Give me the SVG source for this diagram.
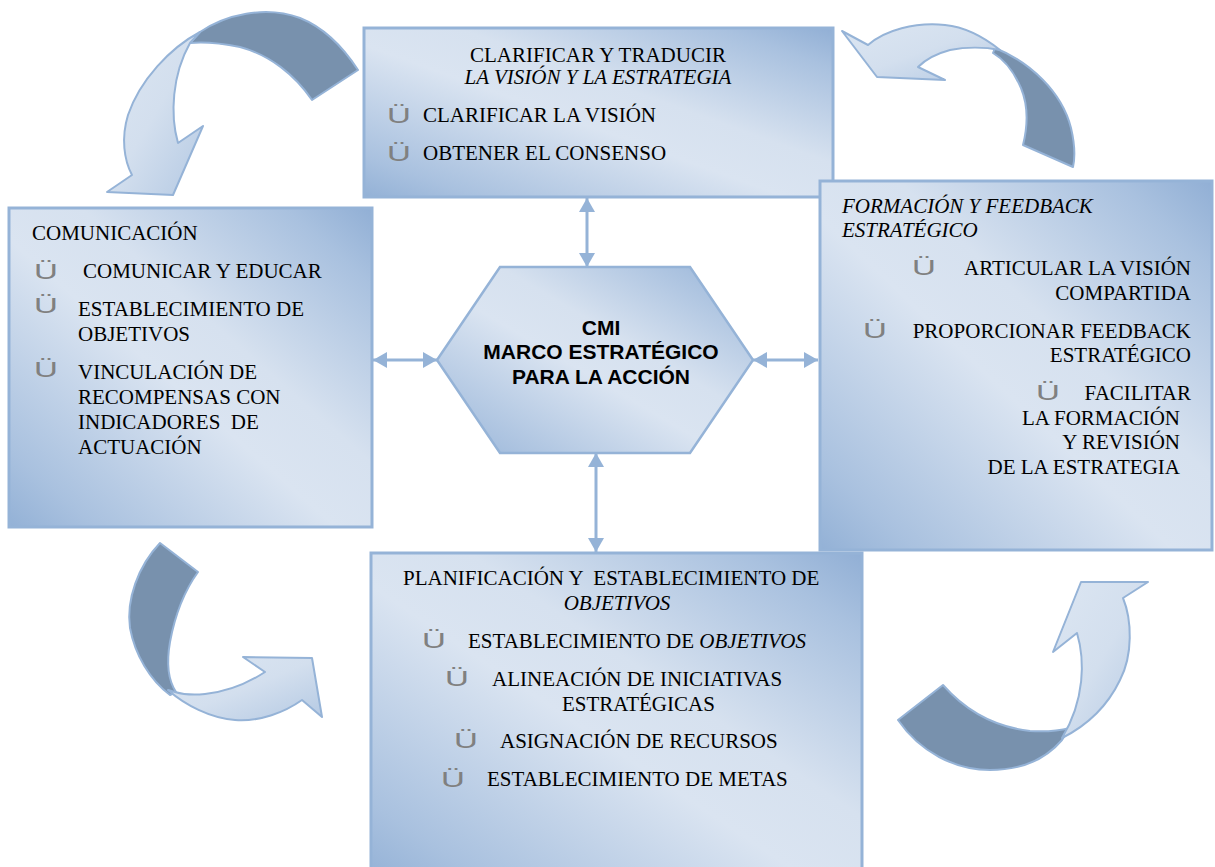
<svg xmlns="http://www.w3.org/2000/svg" width="1215" height="867" viewBox="0 0 1215 867">
<defs>
<linearGradient id="boxGrad" x1="0" y1="1" x2="1" y2="0">
<stop offset="0" stop-color="#93b1d6"/>
<stop offset="0.12" stop-color="#a9c1df"/>
<stop offset="0.45" stop-color="#dae4f1"/>
<stop offset="0.6" stop-color="#d6e1ef"/>
<stop offset="0.88" stop-color="#a9c1df"/>
<stop offset="1" stop-color="#91afd5"/>
</linearGradient>
<linearGradient id="arrowGrad" x1="0" y1="0" x2="1" y2="1">
<stop offset="0" stop-color="#dce6f2"/>
<stop offset="0.5" stop-color="#d3dfee"/>
<stop offset="1" stop-color="#b4c9e3"/>
</linearGradient>
<marker id="ah" viewBox="0 0 14 16" refX="14" refY="8" markerWidth="14" markerHeight="16" markerUnits="userSpaceOnUse" orient="auto-start-reverse">
<path d="M0,0 L14,8 L0,16 Z" fill="#95b3d7"/>
</marker>
<style>
.box{fill:url(#boxGrad);stroke:#95b3d7;stroke-width:3}
.hex{fill:url(#boxGrad);stroke:#95b3d7;stroke-width:2.5}
.dark{fill:#7891ad;stroke:#95b3d7;stroke-width:2;stroke-linejoin:round}
.light{fill:url(#arrowGrad);stroke:#95b3d7;stroke-width:2;stroke-linejoin:round}
.conn{stroke:#95b3d7;stroke-width:3;fill:none;marker-start:url(#ah);marker-end:url(#ah)}
.t{font-family:"Liberation Sans" ,serif;font-size:21px;fill:#000;white-space:pre}
.t{font-family:"Liberation Serif","Times New Roman",serif}
.i{font-style:italic}
.b{font-family:"Liberation Sans",Arial,sans-serif;font-size:22px;fill:#808080}
.h{font-family:"Liberation Sans",Arial,sans-serif;font-size:21px;font-weight:bold;fill:#000;text-anchor:middle}
.m{text-anchor:middle}
.e{text-anchor:end}
</style>
</defs>
<rect width="1215" height="867" fill="#ffffff"/>

<g id="curved-arrows">
<g id="arrow-top-left">
<path class="dark" d="M200,32 C225,15 265,5 300,18 C325,28 345,50 358,70 L312,100 C295,75 270,55 240,47 C220,43 200,42 190,43 Z"/>
<path class="light" d="M200,32 C170,48 140,80 128,115 C121,138 124,160 132,175 L107,192 L173,195 L203,126 L178,143 C170,115 172,75 190,43 Z"/>
</g>
<g id="arrow-top-right">
<path class="dark" d="M995,48 C1030,62 1062,92 1071,128 C1075,145 1075,158 1073,167 L1023,145 C1028,125 1028,105 1021,88 C1014,72 1005,60 993,53 Z"/>
<path class="light" d="M868,45 C885,30 915,22 945,25 C965,27 985,38 1000,50 C985,47 965,47 950,50 C935,54 925,60 918,67 L945,80 L877,77 L842,31 Z"/>
</g>
<g id="arrow-bottom-left">
<path class="dark" d="M160,543 L198,572 C185,590 175,615 170,642 C166,665 168,680 176,692 L170,695 C150,680 135,655 130,628 C126,600 138,566 160,543 Z"/>
<path class="light" d="M168,690 C185,705 210,718 235,720 C260,722 285,712 302,700 L322,717 L312,658 L243,657 L265,672 C245,685 225,692 205,694 C195,695 185,695 175,692 Z"/>
</g>
<g id="arrow-bottom-right">
<path class="dark" d="M943,685 C965,710 995,727 1030,731 C1045,732 1058,731 1070,728 L1062,740 C1045,760 1020,770 990,770 C955,770 920,752 898,720 Z"/>
<path class="light" d="M1062,738 C1085,700 1085,660 1077,633 L1053,652 L1081,582 L1148,582 L1123,598 C1132,620 1133,655 1120,680 C1108,705 1088,725 1062,738 Z"/>
</g>
</g>

<g id="connectors">
<line class="conn" x1="587" y1="198" x2="587" y2="267"/>
<line class="conn" x1="596" y1="453" x2="596" y2="552"/>
<line class="conn" x1="373" y1="360" x2="437" y2="360"/>
<line class="conn" x1="753" y1="360" x2="818" y2="360"/>
</g>

<g id="node-clarificar">
<rect class="box" x="364" y="28" width="469" height="169"/>
<text class="t m" x="598" y="62">CLARIFICAR Y TRADUCIR</text>
<text class="t i m" x="598" y="84">LA VISIÓN Y LA ESTRATEGIA</text>
<text class="b" transform="translate(387,123) scale(1.5,1)">Ü</text>
<text class="t" x="423" y="122">CLARIFICAR LA VISIÓN</text>
<text class="b" transform="translate(387,161) scale(1.5,1)">Ü</text>
<text class="t" x="423" y="160">OBTENER EL CONSENSO</text>
</g>

<g id="node-comunicacion">
<rect class="box" x="9" y="208" width="363" height="319"/>
<text class="t" x="32" y="240">COMUNICACIÓN</text>
<text class="b" transform="translate(34,279) scale(1.5,1)">Ü</text>
<text class="t" x="83" y="278">COMUNICAR Y EDUCAR</text>
<text class="b" transform="translate(34,313) scale(1.5,1)">Ü</text>
<text class="t" x="78" y="316">ESTABLECIMIENTO DE</text>
<text class="t" x="78" y="341">OBJETIVOS</text>
<text class="b" transform="translate(34,377) scale(1.5,1)">Ü</text>
<text class="t" x="78" y="379">VINCULACIÓN DE</text>
<text class="t" x="78" y="404">RECOMPENSAS CON</text>
<text class="t" x="78" y="429">INDICADORES  DE</text>
<text class="t" x="78" y="454">ACTUACIÓN</text>
</g>

<g id="node-formacion">
<rect class="box" x="820" y="181" width="392" height="369"/>
<text class="t i" x="842" y="213">FORMACIÓN Y FEEDBACK</text>
<text class="t i" x="842" y="237">ESTRATÉGICO</text>
<text class="b" transform="translate(912,275) scale(1.5,1)">Ü</text>
<text class="t e" x="1191" y="275">ARTICULAR LA VISIÓN</text>
<text class="t e" x="1191" y="300">COMPARTIDA</text>
<text class="b" transform="translate(863,338) scale(1.5,1)">Ü</text>
<text class="t e" x="1191" y="338">PROPORCIONAR FEEDBACK</text>
<text class="t e" x="1191" y="362">ESTRATÉGICO</text>
<text class="b" transform="translate(1036,400) scale(1.5,1)">Ü</text>
<text class="t e" x="1191" y="400">FACILITAR</text>
<text class="t e" x="1180" y="425">LA FORMACIÓN</text>
<text class="t e" x="1180" y="449">Y REVISIÓN</text>
<text class="t e" x="1180" y="474">DE LA ESTRATEGIA</text>
</g>

<g id="node-planificacion">
<rect class="box" x="371" y="553" width="491" height="330"/>
<text class="t" x="403" y="585">PLANIFICACIÓN Y  ESTABLECIMIENTO DE</text>
<text class="t i m" x="617" y="610">OBJETIVOS</text>
<text class="b" transform="translate(422,648) scale(1.5,1)">Ü</text>
<text class="t" x="468" y="648">ESTABLECIMIENTO DE <tspan class="i">OBJETIVOS</tspan></text>
<text class="b" transform="translate(445,686) scale(1.5,1)">Ü</text>
<text class="t" x="492" y="686">ALINEACIÓN DE INICIATIVAS</text>
<text class="t" x="562" y="711">ESTRATÉGICAS</text>
<text class="b" transform="translate(454,748) scale(1.5,1)">Ü</text>
<text class="t" x="500" y="748">ASIGNACIÓN DE RECURSOS</text>
<text class="b" transform="translate(441,787) scale(1.5,1)">Ü</text>
<text class="t" x="487" y="786">ESTABLECIMIENTO DE METAS</text>
</g>

<g id="node-cmi">
<polygon class="hex" points="500,267 690,267 753,360 690,453 500,453 437,360"/>
<text class="h" x="601" y="335">CMI</text>
<text class="h" x="601" y="359">MARCO ESTRATÉGICO</text>
<text class="h" x="601" y="384">PARA LA ACCIÓN</text>
</g>
</svg>
